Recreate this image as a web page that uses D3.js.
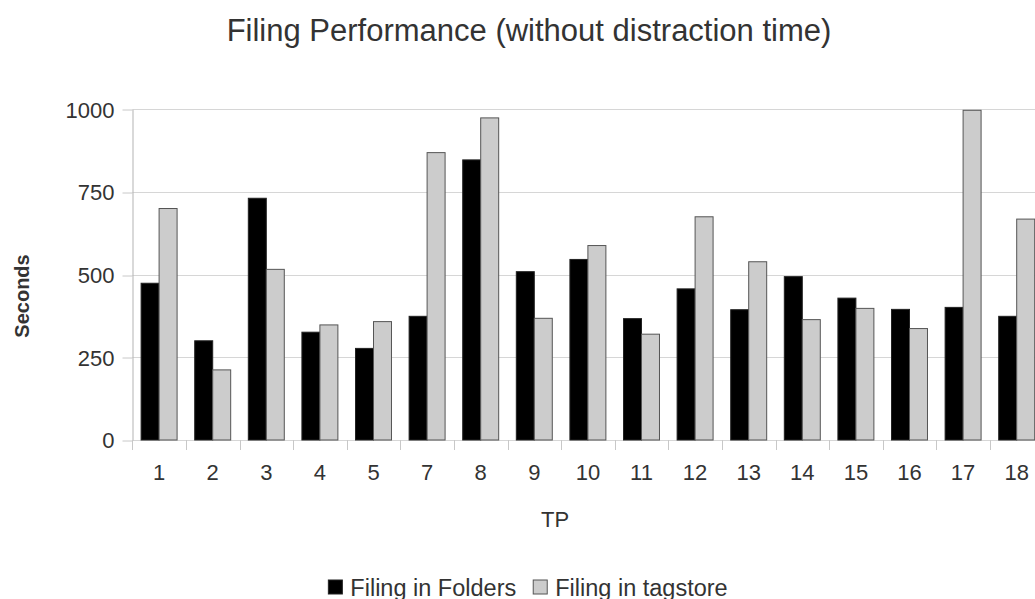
<!DOCTYPE html>
<meta charset="utf-8">
<script src="https://d3js.org/d3.v7.min.js"></script>
<style>
  body { margin: 0; background: #fff; }
  text { font-family: "Liberation Sans", Arial, sans-serif; fill: #333; }
</style>
<body>
<div id="chart"></div>
<script>
  // participants (TP 6 is missing in the original)
  const categories = ["1","2","3","4","5","7","8","9","10","11","12","13","14","15","16","17","18"];
  const seriesNames = ["Filing in Folders", "Filing in tagstore"];
  const folders  = [474, 300, 731, 326, 277, 374, 847, 509, 546, 367, 457, 394, 494, 429, 395, 401, 374];
  const tagstore = [700, 212, 516, 348, 358, 869, 974, 368, 588, 320, 675, 539, 364, 398, 337, 997, 668];
  const yTicks = [0, 250, 500, 750, 1000];
  const colors = ["#000000", "#cccccc"];
  const strokes = ["#222222", "#555555"];

  const W = 1035, H = 599;
  const plot = {left: 132.3, right: 1043.5, top: 109.3, bottom: 440};

  const svg = d3.select("#chart").append("svg")
    .attr("width", W).attr("height", H);

  const x = d3.scaleBand().domain(categories).range([plot.left, plot.right]).padding(0);
  const xs = d3.scaleBand().domain(seriesNames).range([0, x.bandwidth()])
    .paddingInner(0).paddingOuter(0.49);
  const y = d3.scaleLinear().domain([0, 1000]).range([plot.bottom, plot.top]);

  // grid
  svg.append("g").selectAll("line").data(yTicks).join("line")
    .attr("x1", plot.left).attr("x2", W)
    .attr("y1", d => Math.round(y(d)) + 0.5).attr("y2", d => Math.round(y(d)) + 0.5)
    .attr("stroke", "#d6d6d6").attr("stroke-width", 1);

  // y axis
  const yAxis = svg.append("g")
    .attr("transform", `translate(${Math.round(plot.left) + 0.5},0)`)
    .call(d3.axisLeft(y).tickValues(yTicks).tickFormat(d3.format("d"))
      .tickSize(10).tickPadding(8).tickSizeOuter(0));
  yAxis.select(".domain").attr("stroke", "#b3b3b3");
  yAxis.selectAll(".tick line").attr("stroke", "#c8c8c8")
    .attr("transform", d => `translate(0,${Math.round(y(d)) + 0.5 - y(d)})`);
  yAxis.selectAll(".tick text").style("font-size", "22px").attr("fill", "#333")
    .style("font-family", "'Liberation Sans', Arial, sans-serif").attr("dy", "0.35em");

  // x axis (ticks at band boundaries)
  const xAxis = svg.append("g").attr("transform", `translate(0,${plot.bottom})`);
  const bounds = categories.map(c => x(c)).concat([plot.right]);
  xAxis.selectAll("line").data(bounds).join("line")
    .attr("x1", d => Math.round(d) + 0.5).attr("x2", d => Math.round(d) + 0.5)
    .attr("y1", 0).attr("y2", 10).attr("stroke", "#c8c8c8");
  xAxis.selectAll("text").data(categories).join("text")
    .attr("x", d => x(d) + x.bandwidth() / 2).attr("y", 40)
    .attr("text-anchor", "middle").style("font-size", "22px").text(d => d);

  // bars
  const data = categories.map((c, i) => ({cat: c, vals: [folders[i], tagstore[i]]}));
  const groups = svg.append("g").selectAll("g").data(data).join("g")
    .attr("transform", d => `translate(${x(d.cat)},0)`);
  groups.selectAll("rect")
    .data(d => d.vals.map((v, j) => ({name: seriesNames[j], v, j})))
    .join("rect")
    .attr("x", d => xs(d.name))
    .attr("y", d => y(d.v))
    .attr("width", xs.bandwidth())
    .attr("height", d => y(0) - y(d.v))
    .attr("fill", d => colors[d.j])
    .attr("stroke", d => strokes[d.j])
    .attr("stroke-width", 1);

  // title
  svg.append("text").attr("x", 529).attr("y", 41).attr("text-anchor", "middle")
    .style("font-size", "31px").text("Filing Performance (without distraction time)");

  // axis titles
  svg.append("text").attr("x", 555).attr("y", 527).attr("text-anchor", "middle")
    .style("font-size", "22px").text("TP");
  svg.append("text").attr("transform", "translate(29,296) rotate(-90)")
    .attr("text-anchor", "middle").style("font-size", "20px").style("font-weight", "bold")
    .text("Seconds");

  // legend
  const legend = svg.append("g");
  const items = legend.selectAll("g").data(seriesNames).join("g");
  items.append("rect").attr("width", 14).attr("height", 14).attr("y", 580)
    .attr("fill", (d, i) => colors[i]).attr("stroke", (d, i) => strokes[i]);
  items.append("text").attr("x", 22).attr("y", 596).style("font-size", "23.5px").text(d => d);
  let lx = 0;
  const widths = [];
  items.each(function() { widths.push(this.getBBox().width); });
  const gap = 17;
  const total = d3.sum(widths) + gap * (widths.length - 1);
  lx = 528 - total / 2;
  items.attr("transform", (d, i) => {
    const t = `translate(${lx},0)`;
    lx += widths[i] + gap;
    return t;
  });
</script>
</body>
